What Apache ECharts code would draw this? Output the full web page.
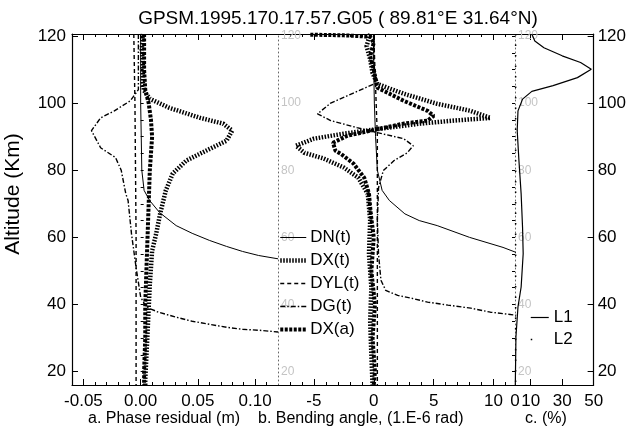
<!DOCTYPE html>
<html>
<head>
<meta charset="utf-8">
<script src="https://cdn.jsdelivr.net/npm/echarts@6/dist/echarts.min.js"></script>
<style>html,body{margin:0;padding:0;background:#fff}#main{width:629px;height:434px}</style>
</head>
<body>
<div id="main"></div>
<script>
// tick values
const altTicks = [20, 40, 60, 80, 100, 120];
const altMinor = [20, 25, 30, 35, 40, 45, 50, 55, 60, 65, 70, 75, 80, 85, 90, 95, 100, 105, 110, 115, 120];
const phaseTicks = [-0.05, 0, 0.05, 0.1];
const phaseMinor = [-0.06, -0.05, -0.04, -0.03, -0.02, -0.01, 0, 0.01, 0.02, 0.03, 0.04, 0.05, 0.06, 0.07, 0.08, 0.09, 0.1, 0.11];
const bendTicks = [-5, 0, 5, 10];
const bendMinor = [-7, -6, -5, -4, -3, -2, -1, 0, 1, 2, 3, 4, 5, 6, 7, 8, 9, 10, 11];
const pctLabels = [0, 10, 30, 50];
const pctTicks = [10, 30, 50];

// a. phase residual (m) -> [value, altitude]
const phaseDN = [[0, 120.6], [0, 110], [0, 100], [0.0005, 90], [0.001, 80], [0.003, 74], [0.0078, 71], [0.0165, 67.4], [0.031, 63.5], [0.045, 61.2], [0.06, 59.1], [0.075, 57.3], [0.089, 55.8], [0.103, 54.6], [0.12, 53.6]];
const phaseDX = [[0.002, 120.6], [0.001, 116], [0.002, 112], [0.002, 106], [0.003, 103.7], [0.008, 101.3], [0.025, 98.6], [0.052, 95.6], [0.072, 93.9], [0.08, 91.8], [0.075, 88.8], [0.057, 85.8], [0.04, 82.9], [0.028, 79], [0.022, 74], [0.017, 67], [0.0135, 61], [0.01, 56], [0.008, 46], [0.006, 31.5], [0.004, 17.5], [0.004, 16]];
const phaseDYL = [[-0.006, 120.6], [-0.005, 100], [-0.0045, 80], [-0.004, 60], [-0.004, 40], [-0.004, 16]];
const phaseDG = [[-0.002, 120.6], [-0.002, 110], [-0.002, 104], [-0.009, 100.7], [-0.023, 97.7], [-0.035, 95.6], [-0.043, 91.8], [-0.035, 86.7], [-0.022, 83.8], [-0.017, 80], [-0.013, 73], [-0.011, 71], [-0.008, 61], [-0.004, 51], [0, 42.2], [0.005, 39.2], [0.0155, 37.7], [0.031, 36.2], [0.045, 35], [0.06, 34.1], [0.075, 33.2], [0.089, 32.6], [0.104, 32.3], [0.12, 31.8]];
const phaseDXa = [[0.003, 120.6], [0.003, 110], [0.004, 104], [0.007, 100], [0.009, 95], [0.01, 90], [0.009, 85], [0.008, 80], [0.007, 70], [0.006, 60], [0.005, 50], [0.004, 40], [0.004, 30], [0.003, 20], [0.003, 16]];

// b. bending angle (1.E-6 rad)
const bendDN = [[0, 120.6], [0, 110], [0.05, 100], [0.15, 90], [0.3, 80], [0.7, 74], [1.3, 71], [2.6, 67], [3.8, 65], [5.3, 63.5], [8, 60], [10.8, 57], [11.9, 55.5]];
const bendDX = [[-0.3, 120.6], [-0.6, 117], [-0.3, 113], [-0.1, 109], [0.3, 105.7], [2.5, 102.8], [5.3, 99.8], [8.1, 97.7], [9.75, 95.6], [6.7, 94.8], [3.9, 93.9], [0.6, 92.4], [-2.5, 90.9], [-5, 89.4], [-6.5, 87.3], [-5.8, 85.2], [-4.2, 83.5], [-2.5, 80.8], [-1.3, 77.8], [-0.5, 73], [-0.3, 65], [-0.4, 55], [-0.2, 45], [-0.3, 35], [-0.2, 25], [-0.1, 16]];
const bendDYL = [[0, 120.6], [0.1, 110], [0.2, 100], [0.3, 90], [0.3, 80], [0.3, 60], [0.3, 40], [0.3, 16]];
const bendDG = [[0, 120.6], [0, 112], [0.2, 106], [-1.7, 103], [-3.6, 100], [-4.7, 96.8], [-3.6, 94.8], [-1.4, 92.7], [0.3, 91.2], [2.5, 89.4], [3.3, 87.3], [2.8, 85.2], [1.7, 82.9], [0.8, 79.9], [0.4, 74.8], [0.3, 65], [0.4, 55], [0.6, 47.2], [1, 44.2], [2, 42.7], [3.1, 41.9], [4.5, 40.7], [6.2, 39.8], [8.1, 38.9], [9.75, 37.7], [11.9, 36.8]];
const bendDXa = [[-5.3, 120.4], [-2.5, 120.2], [-0.3, 119.8], [0, 118], [-0.3, 114], [0, 110], [0.3, 104.6], [2.5, 100.7], [4.5, 97.7], [5, 96.2], [4.5, 94.8], [2.5, 93.9], [-0.25, 91.8], [-2.2, 90.3], [-3.4, 88.2], [-3.2, 85.8], [-2.75, 84.9], [-1.7, 82], [-0.8, 77.8], [-0.4, 73], [-0.25, 67], [0, 60], [-0.2, 50], [0.1, 40], [-0.1, 30], [0.1, 20], [0, 16]];

// c. (%)
const pctL1 = [[10.7, 120.6], [12.6, 118.5], [18.4, 116.5], [30, 114.1], [41.7, 112.1], [48.5, 110.1], [39.7, 107.6], [24.2, 105.2], [10.7, 103.5], [4.8, 101.2], [1.9, 97.7], [1.4, 91.8], [2.5, 82.9], [3.9, 73], [4.8, 63], [5.2, 55.1], [3.9, 45.2], [1.9, 39.3], [0.6, 30.4], [0.2, 16]];
const pctL2 = [[0.4, 120.6], [0.4, 16]];

const FONT = '"Liberation Sans", Arial, sans-serif';
const yMin = 16, yMax = 120.6;

function xAxes(gi, min, max, major, minor, labels, fmt) {
  const base = {gridIndex: gi, type: 'value', min: min, max: max, splitLine: {show: false}};
  const line = {onZero: false, lineStyle: {color: '#000', width: 1.2}};
  return [
    Object.assign({}, base, {position: 'bottom', axisLine: line,
      axisTick: {inside: true, length: 6, customValues: major, lineStyle: {color: '#000'}},
      axisLabel: {customValues: labels, formatter: fmt, color: '#000', fontSize: 17, fontFamily: FONT, margin: 8}}),
    Object.assign({}, base, {position: 'bottom', axisLine: {show: false},
      axisTick: {inside: true, length: 3, customValues: minor, lineStyle: {color: '#000'}},
      axisLabel: {show: false}}),
    Object.assign({}, base, {position: 'top', axisLine: line,
      axisTick: {inside: true, length: 6, customValues: major, lineStyle: {color: '#000'}},
      axisLabel: {show: false}}),
    Object.assign({}, base, {position: 'top', axisLine: {show: false},
      axisTick: {inside: true, length: 3, customValues: minor, lineStyle: {color: '#000'}},
      axisLabel: {show: false}})
  ];
}

function ghostY(gi) {
  return {gridIndex: gi, type: 'value', min: yMin, max: yMax, position: 'left', splitLine: {show: false},
    axisLine: {onZero: false, lineStyle: {color: '#666', width: 1, type: [1, 3]}},
    axisTick: {show: false},
    axisLabel: {inside: true, customValues: altTicks, color: '#c4c4c4', fontSize: 12, fontFamily: FONT, margin: 3}};
}

function mainY(gi, pos) {
  return [
    {gridIndex: gi, type: 'value', min: yMin, max: yMax, position: pos, splitLine: {show: false},
      axisLine: {onZero: false, lineStyle: {color: '#000', width: 1.2}},
      axisTick: {inside: true, length: 6, customValues: altTicks, lineStyle: {color: '#000'}},
      axisLabel: {customValues: altTicks, color: '#000', fontSize: 17, fontFamily: FONT, margin: pos === 'left' ? 6 : 4}},
    {gridIndex: gi, type: 'value', min: yMin, max: yMax, position: pos, splitLine: {show: false},
      axisLine: {show: false},
      axisTick: {inside: true, length: 3, customValues: altMinor, lineStyle: {color: '#000'}},
      axisLabel: {show: false}}
  ];
}

const styles = {
  'DN(t)': {color: '#000', width: 1, type: 'solid'},
  'DX(t)': {color: '#000', width: 4.5, type: [1.5, 1.5]},
  'DYL(t)': {color: '#000', width: 1.4, type: [4, 3]},
  'DG(t)': {color: '#000', width: 1.4, type: [5, 2, 1.5, 2]},
  'DX(a)': {color: '#000', width: 4, type: [3, 1.5]},
  'L1': {color: '#000', width: 1.2, type: 'solid'},
  'L2': {color: '#000', width: 1.5, type: [1.5, 9]}
};

function line(name, data, xi, yi) {
  return {name: name, type: 'line', data: data, xAxisIndex: xi, yAxisIndex: yi,
    symbol: 'none', showSymbol: false, clip: true, animation: false,
    lineStyle: styles[name], itemStyle: {color: styles[name].color}};
}

// legend entries draw the series' own line style, without a marker
function legendItem(name, dash) {
  const s = styles[name];
  return {name: name, lineStyle: {color: s.color, width: s.width, type: dash || s.type}};
}

const hiddenMark = {color: 'rgba(0,0,0,0)', borderColor: 'rgba(0,0,0,0)', borderWidth: 0};

const chart = echarts.init(document.getElementById('main'), null, {renderer: 'canvas'});
chart.setOption({
  backgroundColor: '#fff',
  animation: false,
  title: {text: 'GPSM.1995.170.17.57.G05 ( 89.81°E 31.64°N)', left: 333, top: 4, textAlign: 'center',
    textStyle: {fontSize: 19, fontWeight: 'normal', color: '#000', fontFamily: FONT}},
  grid: [
    {left: 72, top: 34, width: 206, height: 351},
    {left: 278, top: 34, width: 237, height: 351},
    {left: 515, top: 34, width: 86, height: 351}
  ],
  xAxis: [].concat(
    xAxes(0, -0.06, 0.12, phaseTicks, phaseMinor, phaseTicks, function (v) { return v.toFixed(2); }),
    xAxes(1, -8, 11.8, bendTicks, bendMinor, bendTicks, null),
    xAxes(2, 0, 50, pctTicks, pctTicks, pctLabels, null)
  ),
  yAxis: [].concat(mainY(0, 'left'), [ghostY(1), ghostY(2)], mainY(2, 'right')),
  legend: [
    {data: [legendItem('DN(t)'), legendItem('DX(t)'), legendItem('DYL(t)'), legendItem('DG(t)'), legendItem('DX(a)')],
      orient: 'vertical', left: 278, top: 229,
      itemWidth: 26, itemHeight: 14, itemGap: 6, padding: 0, itemStyle: hiddenMark,
      textStyle: {fontSize: 17, color: '#000', fontFamily: FONT, padding: [0, 0, 0, -1]}},
    {data: [legendItem('L1'), legendItem('L2', [1.5, 20])], orient: 'vertical', left: 530, top: 309,
      itemWidth: 18, itemHeight: 14, itemGap: 5, padding: 0, itemStyle: hiddenMark,
      textStyle: {fontSize: 17, color: '#000', fontFamily: FONT}}
  ],
  graphic: [
    {type: 'text', left: 88, top: 411, style: {text: 'a. Phase residual (m)', fontSize: 16, fontFamily: FONT, fill: '#000'}},
    {type: 'text', left: 258, top: 411, style: {text: 'b. Bending angle, (1.E-6 rad)', fontSize: 16, fontFamily: FONT, fill: '#000'}},
    {type: 'text', left: 525, top: 411, style: {text: 'c. (%)', fontSize: 16, fontFamily: FONT, fill: '#000'}},
    {type: 'text', x: 13, y: 194, rotation: Math.PI / 2,
      style: {text: 'Altitude (Km)', fontSize: 21, fontFamily: FONT, fill: '#000', align: 'center', verticalAlign: 'middle'}}
  ],
  series: [
    line('DN(t)', phaseDN, 0, 0),
    line('DX(t)', phaseDX, 0, 0),
    line('DYL(t)', phaseDYL, 0, 0),
    line('DG(t)', phaseDG, 0, 0),
    line('DX(a)', phaseDXa, 0, 0),
    line('DN(t)', bendDN, 4, 2),
    line('DX(t)', bendDX, 4, 2),
    line('DYL(t)', bendDYL, 4, 2),
    line('DG(t)', bendDG, 4, 2),
    line('DX(a)', bendDXa, 4, 2),
    line('L1', pctL1, 8, 4),
    line('L2', pctL2, 8, 4)
  ]
});
</script>
</body>
</html>
